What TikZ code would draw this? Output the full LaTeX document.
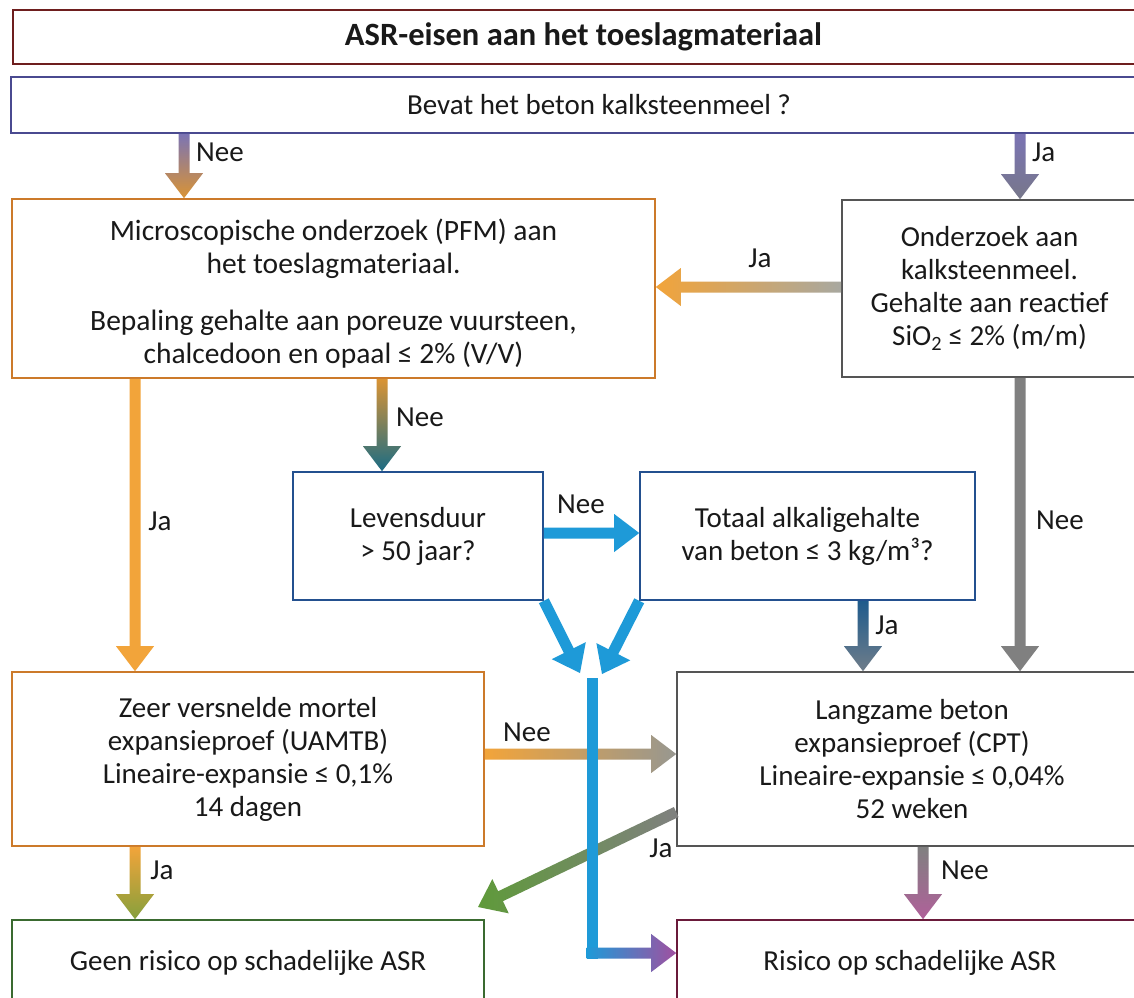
\documentclass[tikz,border=0pt]{standalone}
\usepackage{fontspec}
\setmainfont{Carlito}
\usetikzlibrary{calc}
\definecolor{cTitle}{HTML}{6E1E1E}
\definecolor{cQ}{HTML}{4A4A90}
\definecolor{cOrB}{HTML}{CC7A2A}
\definecolor{cGrB}{HTML}{555555}
\definecolor{cBlB}{HTML}{23508F}
\definecolor{cGnB}{HTML}{3A6A30}
\definecolor{cRdB}{HTML}{6A1A3A}
\definecolor{aPurp}{HTML}{7B74B4}
\definecolor{aOr}{HTML}{F2A43A}
\definecolor{aSlate}{HTML}{77778A}
\definecolor{aGrLt}{HTML}{A8A8A0}
\definecolor{aTeal}{HTML}{1B6C84}
\definecolor{aBlue}{HTML}{1E9AD8}
\definecolor{aDkBl}{HTML}{1F5B8C}
\definecolor{aBlGr}{HTML}{6F7D8A}
\definecolor{aGray}{HTML}{808080}
\definecolor{aGreen}{HTML}{5F9A3A}
\definecolor{aOlive}{HTML}{86A03C}
\definecolor{aPink}{HTML}{B0609A}
\definecolor{aViol}{HTML}{A050A0}
\newcommand\garrow[3]{%
  \coordinate (gA) at #1;
  \coordinate (gB) at #2;
  \coordinate (gH) at ($(gB)!25pt!(gA)$);
  \path[#3] ($(gA)!5.5pt!90:(gB)$) -- ($(gH)!5.5pt!90:(gB)$) -- ($(gH)!19pt!90:(gB)$)
    -- (gB) -- ($(gH)!19pt!-90:(gB)$) -- ($(gH)!5.5pt!-90:(gB)$) -- ($(gA)!5.5pt!-90:(gB)$) -- cycle;
}
\begin{document}
\begin{tikzpicture}[x=1pt,y=-1pt,
  box/.style={draw, line width=1.6pt, inner sep=0pt, align=center,
    font=\fontsize{29}{33}\selectfont, text=black!90},
  txt/.style={inner sep=0pt, align=center, font=\fontsize{29.5}{33}\selectfont, text=black!90},
  lbl/.style={inner sep=0pt, font=\fontsize{29}{33}\selectfont, text=black!90}]
\useasboundingbox (0,0) rectangle (1134,997);
\fill[white] (0,0) rectangle (1134,997);
\clip (0,0) rectangle (1134,997);

% boxes
\node[box, draw=cTitle, minimum width=1141pt, minimum height=54pt,
  font=\fontsize{32.5}{36}\selectfont\bfseries] (title) at (583.5,37)
  {ASR-eisen aan het toeslagmateriaal};
\node[box, draw=cQ, minimum width=1176pt, minimum height=56pt] (q) at (599,105)
  {Bevat het beton kalksteenmeel ?};
\node[box, draw=cOrB, minimum width=643pt, minimum height=179pt] (pfm) at (333.5,288.5) {};
\node[txt] (pfmt) at ($(pfm.center)+(0,5)$)
  {Microscopische onderzoek (PFM) aan\\het toeslagmateriaal.\\[24pt]Bepaling gehalte aan poreuze vuursteen,\\chalcedoon en opaal ≤ 2\% (V/V)};
\node[box, draw=cGrB, minimum width=295pt, minimum height=177pt] (gray) at (989.5,288.5)
  {Onderzoek aan\\kalksteenmeel.\\Gehalte aan reactief\\SiO\textsubscript{2} ≤ 2\% (m/m)};
\node[box, draw=cBlB, minimum width=250pt, minimum height=128pt] (lev) at (418,536)
  {Levensduur\\> 50 jaar?};
\node[box, draw=cBlB, minimum width=335pt, minimum height=128pt] (tot) at (807.5,536)
  {Totaal alkaligehalte\\van beton ≤ 3 kg/m³?};
\node[box, draw=cOrB, minimum width=472pt, minimum height=174pt] (uam) at (248,759)
  {Zeer versnelde mortel\\expansieproef (UAMTB)\\Lineaire-expansie ≤ 0,1\%\\14 dagen};
\node[box, draw=cGrB, minimum width=470pt, minimum height=174pt] (cpt) at (912,759)
  {Langzame beton\\expansieproef (CPT)\\Lineaire-expansie ≤ 0,04\%\\52 weken};
\node[box, draw=cGnB, minimum width=472pt, minimum height=85pt] (geen) at (248,962.5)
  {Geen risico op schadelijke ASR};
\node[box, draw=cRdB, minimum width=466pt, minimum height=85pt] (ris) at (910,962.5)
  {Risico op schadelijke ASR};

% guide coordinates
\coordinate (xA) at (184,0);
\coordinate (xB) at (1020,0);
\coordinate (xC) at (135,0);
\coordinate (xD) at (382,0);
\coordinate (xE) at (863,0);
\coordinate (xF) at (923,0);
\coordinate (yG) at (0,287);
\coordinate (yH) at (0,533);
\coordinate (yI) at (0,754);
\coordinate (yJ) at (0,812);
\coordinate (m1) at (580,673);
\coordinate (m2) at (602,674);
\coordinate (m3) at (592,678);
\coordinate (m4) at (592,953);
\coordinate (g1) at (478,907);

% arrows
\garrow{(q.south -| xA)}{(pfm.north -| xA)}{top color=aPurp, bottom color=aOr!90!black}
\garrow{(q.south -| xB)}{(gray.north -| xB)}{top color=aPurp, bottom color=aSlate}
\garrow{(gray.west |- yG)}{(pfm.east |- yG)}{left color=aOr, right color=aGrLt}
\garrow{(pfm.south -| xC)}{(uam.north -| xC)}{fill=aOr}
\garrow{(pfm.south -| xD)}{(lev.north -| xD)}{top color=aOr!90!black, bottom color=aTeal}
\garrow{(lev.east |- yH)}{(tot.west |- yH)}{fill=aBlue}
\garrow{(lev.south east)}{(m1)}{fill=aBlue}
\garrow{(tot.south west)}{(m2)}{fill=aBlue}
\garrow{(tot.south -| xE)}{(cpt.north -| xE)}{top color=aDkBl, bottom color=aBlGr}
\garrow{(gray.south -| xB)}{(cpt.north -| xB)}{fill=aGray}
\garrow{(uam.east |- yI)}{(cpt.west |- yI)}{left color=aOr, right color=aGrLt!90!black}
\garrow{(cpt.west |- yJ)}{(g1)}{left color=aGreen, right color=aGray}
\garrow{(uam.south -| xC)}{(geen.north -| xC)}{top color=aOr, bottom color=aOlive}
\garrow{(cpt.south -| xF)}{(ris.north -| xF)}{top color=aGray, bottom color=aPink}
\fill[aBlue] ($(m3)+(-5.5,0)$) rectangle ($(m4)+(5.5,5.5)$);
\garrow{($(m4)+(-5.5,0)$)}{(ris.west |- m4)}{left color=aBlue, right color=aViol}

% labels
\node[lbl, anchor=west] (l1) at (196,152) {Nee};
\node[lbl, anchor=west] (l2) at (1032,152) {Ja};
\node[lbl] (l3) at (760,258) {Ja};
\node[lbl] (l4) at (160,521) {Ja};
\node[lbl, anchor=west] (l5) at (396,417) {Nee};
\node[lbl] (l6) at (581,504) {Nee};
\node[lbl] (l7) at (1060,520) {Nee};
\node[lbl] (l8) at (887,625) {Ja};
\node[lbl] (l9) at (527,732) {Nee};
\node[lbl] (l10) at (661,848) {Ja};
\node[lbl] (l11) at (162,870) {Ja};
\node[lbl] (l12) at (965,870) {Nee};
\end{tikzpicture}
\end{document}
